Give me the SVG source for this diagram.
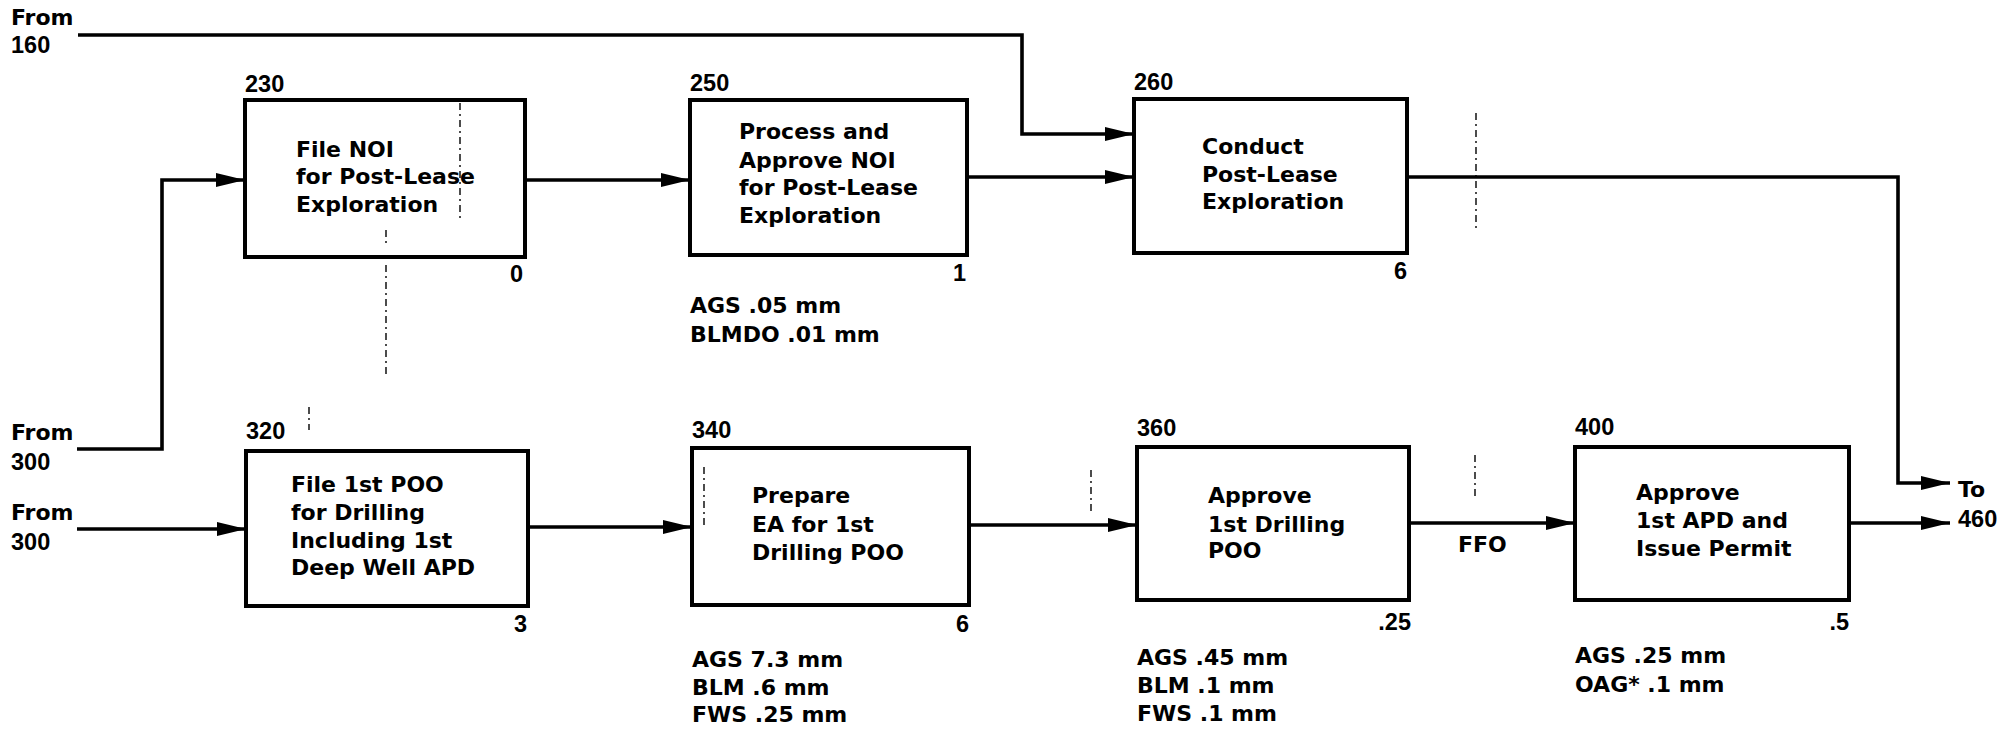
<svg xmlns="http://www.w3.org/2000/svg" width="2002" height="733" viewBox="0 0 2002 733">
<defs>
<marker id="ah" markerUnits="userSpaceOnUse" markerWidth="30" markerHeight="16" refX="29" refY="7" orient="auto">
<path d="M0,0 L29,7 L0,14 z" fill="#000"/>
</marker>
<style>
.box{fill:#fff;stroke:#000;stroke-width:4}
.t{font-family:"DejaVu Sans","Liberation Sans",sans-serif;font-weight:bold;font-size:22px;fill:#000}
.n{font-family:"Liberation Sans",Arial,sans-serif;font-weight:bold;font-size:23.5px;fill:#000}
.c{fill:none;stroke:#000;stroke-width:3.6}
.a{fill:none;stroke:#000;stroke-width:1.4;stroke-dasharray:7 4 2 4}
</style>
</defs>
<rect width="2002" height="733" fill="#fff"/>

<g id="connectors">
<path class="c" d="M78,35 H1022 V134 H1134" marker-end="url(#ah)"/>
<path class="c" d="M77,449 H162 V180 H245" marker-end="url(#ah)"/>
<path class="c" d="M525,180 H690" marker-end="url(#ah)"/>
<path class="c" d="M967,177 H1134" marker-end="url(#ah)"/>
<path class="c" d="M1407,177 H1898 V483 H1950" marker-end="url(#ah)"/>
<path class="c" d="M77,529 H246" marker-end="url(#ah)"/>
<path class="c" d="M528,527 H692" marker-end="url(#ah)"/>
<path class="c" d="M969,525 H1137" marker-end="url(#ah)"/>
<path class="c" d="M1409,523 H1575" marker-end="url(#ah)"/>
<path class="c" d="M1849,523 H1950" marker-end="url(#ah)"/>
</g>

<g id="n230">
<rect class="box" x="245" y="100" width="280" height="157"/>
<text class="n" x="245" y="92">230</text>
<text class="t" x="296" y="157">File NOI</text>
<text class="t" x="296" y="184">for Post-Lease</text>
<text class="t" x="296" y="212">Exploration</text>
<text class="n" x="523" y="282" text-anchor="end">0</text>
</g>

<g id="n250">
<rect class="box" x="690" y="100" width="277" height="155"/>
<text class="n" x="690" y="91">250</text>
<text class="t" x="739" y="139">Process and</text>
<text class="t" x="739" y="168">Approve NOI</text>
<text class="t" x="739" y="195">for Post-Lease</text>
<text class="t" x="739" y="223">Exploration</text>
<text class="n" x="966" y="281" text-anchor="end">1</text>
<text class="t" x="690" y="313">AGS .05 mm</text>
<text class="t" x="690" y="342">BLMDO .01 mm</text>
</g>

<g id="n260">
<rect class="box" x="1134" y="99" width="273" height="154"/>
<text class="n" x="1134" y="90">260</text>
<text class="t" x="1202" y="154">Conduct</text>
<text class="t" x="1202" y="182">Post-Lease</text>
<text class="t" x="1202" y="209">Exploration</text>
<text class="n" x="1407" y="279" text-anchor="end">6</text>
</g>

<g id="n320">
<rect class="box" x="246" y="451" width="282" height="155"/>
<text class="n" x="246" y="439">320</text>
<text class="t" x="291" y="492">File 1st POO</text>
<text class="t" x="291" y="520">for Drilling</text>
<text class="t" x="291" y="548">Including 1st</text>
<text class="t" x="291" y="575">Deep Well APD</text>
<text class="n" x="527" y="632" text-anchor="end">3</text>
</g>

<g id="n340">
<rect class="box" x="692" y="448" width="277" height="157"/>
<text class="n" x="692" y="438">340</text>
<text class="t" x="752" y="503">Prepare</text>
<text class="t" x="752" y="532">EA for 1st</text>
<text class="t" x="752" y="560">Drilling POO</text>
<text class="n" x="969" y="632" text-anchor="end">6</text>
<text class="t" x="692" y="667">AGS 7.3 mm</text>
<text class="t" x="692" y="695">BLM .6 mm</text>
<text class="t" x="692" y="722">FWS .25 mm</text>
</g>

<g id="n360">
<rect class="box" x="1137" y="447" width="272" height="153"/>
<text class="n" x="1137" y="436">360</text>
<text class="t" x="1208" y="503">Approve</text>
<text class="t" x="1208" y="532">1st Drilling</text>
<text class="t" x="1208" y="558">POO</text>
<text class="n" x="1411" y="630" text-anchor="end">.25</text>
<text class="t" x="1137" y="665">AGS .45 mm</text>
<text class="t" x="1137" y="693">BLM .1 mm</text>
<text class="t" x="1137" y="721">FWS .1 mm</text>
</g>

<g id="n400">
<rect class="box" x="1575" y="447" width="274" height="153"/>
<text class="n" x="1575" y="435">400</text>
<text class="t" x="1636" y="500">Approve</text>
<text class="t" x="1636" y="528">1st APD and</text>
<text class="t" x="1636" y="556">Issue Permit</text>
<text class="n" x="1849" y="630" text-anchor="end">.5</text>
<text class="t" x="1575" y="663">AGS .25 mm</text>
<text class="t" x="1575" y="692">OAG* .1 mm</text>
</g>

<g id="labels">
<text class="t" x="11" y="25">From</text>
<text class="n" x="11" y="53">160</text>
<text class="t" x="11" y="440">From</text>
<text class="n" x="11" y="470">300</text>
<text class="t" x="11" y="520">From</text>
<text class="n" x="11" y="550">300</text>
<text class="t" x="1958" y="497">To</text>
<text class="n" x="1958" y="527">460</text>
<text class="t" x="1458" y="552">FFO</text>
</g>

<g id="artifacts">
<path class="a" d="M460,103 V220"/>
<path class="a" d="M386,230 V245 M386,265 V378"/>
<path class="a" d="M309,407 V430"/>
<path class="a" d="M1476,113 V228"/>
<path class="a" d="M1475,455 V500"/>
<path class="a" d="M704,467 V527"/>
<path class="a" d="M1091,470 V513"/>
</g>
</svg>
